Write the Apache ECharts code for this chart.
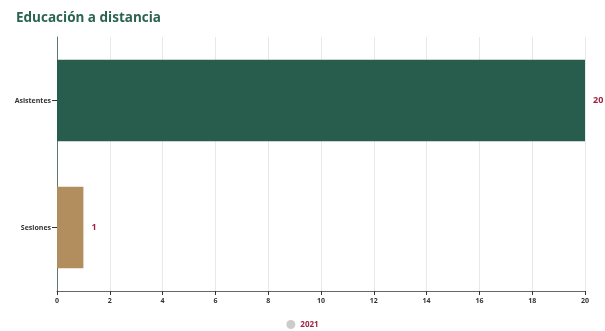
<!DOCTYPE html>
<html><head><meta charset="utf-8">
<script src="https://cdn.jsdelivr.net/npm/echarts@6/dist/echarts.min.js"></script>
<style>html,body{margin:0;padding:0;background:#fff}#c{width:605px;height:331px}</style>
</head><body><div id="c"></div>
<script>
const categories = ['Sesiones', 'Asistentes'];
const values2021 = [1, 20];
const barColors = ['#B28E5E', '#285C4D'];
const xTicks = [0, 2, 4, 6, 8, 10, 12, 14, 16, 18, 20];
const seriesName = '2021';

const chart = echarts.init(document.getElementById('c'));
chart.setOption({
  animation: false,
  title: {
    text: 'Educación a distancia', left: 11, top: 6,
    textStyle: { fontFamily: 'Open Sans', fontWeight: 'bold', fontSize: 13.5, color: '#2A6350' }
  },
  legend: {
    bottom: -3, left: 'center', icon: 'circle', itemWidth: 9, itemHeight: 9, itemGap: 4,
    textStyle: { color: '#9F2241', fontFamily: 'Open Sans', fontWeight: 'bold', fontSize: 8 },
    data: [seriesName]
  },
  grid: { left: 57, right: 20, top: 37, bottom: 40 },
  xAxis: {
    type: 'value', min: xTicks[0], max: xTicks[xTicks.length - 1], interval: 2,
    axisLine: { show: true, lineStyle: { color: '#666', width: 1 } },
    axisTick: { show: true, length: 4, lineStyle: { color: '#333' } },
    axisLabel: { color: '#333', fontSize: 7, fontFamily: 'Open Sans', fontWeight: 'bold', margin: 6 },
    splitLine: { show: true, lineStyle: { color: '#e8e8e8' } }
  },
  yAxis: {
    type: 'category', data: categories,
    axisLine: { show: true, lineStyle: { color: '#5a7a70', width: 1 } },
    axisTick: { show: true, alignWithLabel: true, length: 5, lineStyle: { color: '#333' } },
    axisLabel: { color: '#333', fontSize: 7, fontFamily: 'Open Sans', fontWeight: 'bold', margin: 6 }
  },
  series: [{
    name: seriesName, type: 'bar', barWidth: '64%',
    itemStyle: { color: '#ccc' },
    data: values2021.map((v, i) => ({ value: v, itemStyle: { color: barColors[i] } })),
    label: {
      show: true, position: 'right', distance: 8, color: '#9F2241',
      fontFamily: 'Open Sans', fontWeight: 'bold', fontSize: 9
    }
  }]
});
</script></body></html>
